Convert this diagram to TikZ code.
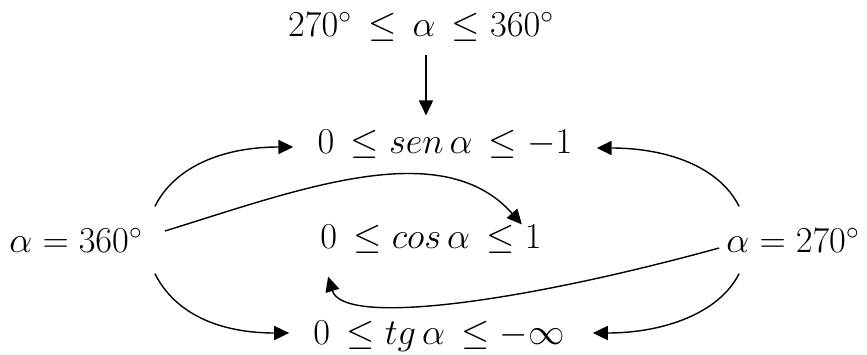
\documentclass[tikz,border=0pt]{standalone}
\usetikzlibrary{arrows.meta,positioning,calc}
\tikzset{
  exprnode/.style={inner sep=0pt, font=\fontsize{19.5}{24}\selectfont},
  flowarrow/.style={-{Triangle[length=8.5pt, width=8pt]}, line width=0.8pt},
}
\begin{document}
\begin{tikzpicture}[x=0.02cm, y=-0.02cm]
  \useasboundingbox (0,0) rectangle (867,355);
  % expressions
  \node[exprnode] (range) at (421,27) {$270^\circ\,\leq\,\alpha\,\leq 360^\circ$};
  \node[exprnode] (sen) at (445,144) {$0\,\leq sen\,\alpha\,\leq -1$};
  \node[exprnode] (cos) at (431,239) {$0\,\leq cos\,\alpha\,\leq 1$};
  \node[exprnode] (tg) at (439,336) {$0\,\leq tg\,\alpha\,\leq -\infty$};
  \node[exprnode] (lft) at (76,240) {$\alpha = 360^\circ$};
  \node[exprnode] (rgt) at (793,240) {$\alpha = 270^\circ$};
  % connectors
  \draw[flowarrow] ([shift={(5,13)}]range.south) -- ([shift={(5,-14)}]range.south |- sen.north);
  \draw[flowarrow] ([shift={(12,-21)}]lft.north east) .. controls +(20,-40) and +(-70,0) .. ([shift={(-24,3)}]sen.west);
  \draw[flowarrow] ([shift={(22,-9)}]lft.east) .. controls +(133,-41) and +(-80,-90) .. ([shift={(-20,0)}]cos.north east);
  \draw[flowarrow] ([shift={(12,21)}]lft.south east) .. controls +(20,40) and +(-70,0) .. ([shift={(-24,-3)}]tg.west);
  \draw[flowarrow] ([shift={(13,-21)}]rgt.north west) .. controls +(-20,-40) and +(70,0) .. ([shift={(24,4)}]sen.east);
  \draw[flowarrow] ([shift={(-7,8)}]rgt.west) .. controls +(-200,55) and +(15,50) .. ([shift={(8,23)}]cos.south west);
  \draw[flowarrow] ([shift={(13,21)}]rgt.south west) .. controls +(-20,40) and +(70,0) .. ([shift={(28,-3)}]tg.east);
\end{tikzpicture}
\end{document}
